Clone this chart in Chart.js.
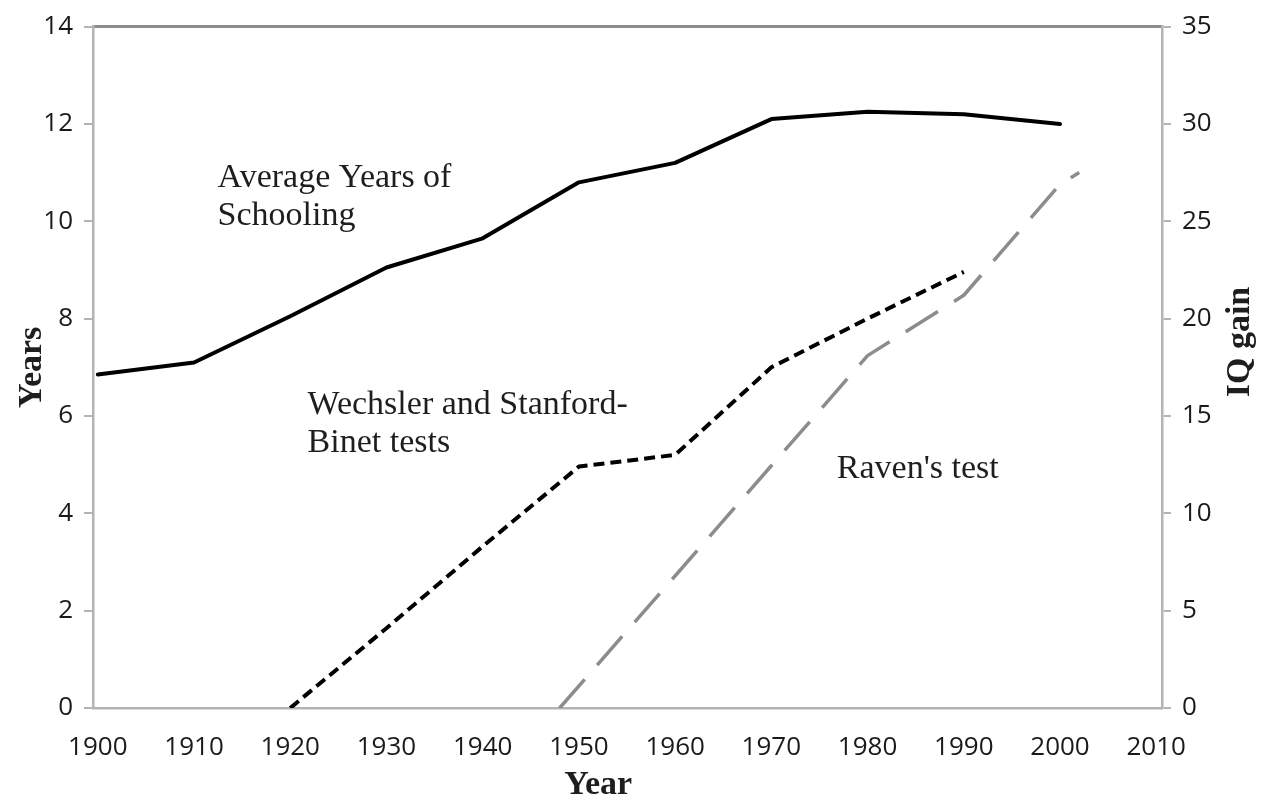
<!DOCTYPE html>
<html>
<head>
<meta charset="utf-8">
<script src="https://cdn.jsdelivr.net/npm/chart.js@4.4.1/dist/chart.umd.min.js"></script>
<style>
  body { margin: 0; background: #fff; }
  #wrap { width: 1261px; height: 808px; }
</style>
</head>
<body>
<div id="wrap"><canvas id="chart" width="1261" height="808"></canvas></div>
<script>
// values
const schoolYears = [1900, 1910, 1920, 1930, 1940, 1950, 1960, 1970, 1980, 1990, 2000];
const schooling = [6.85, 7.1, 8.05, 9.05, 9.65, 10.8, 11.2, 12.1, 12.25, 12.2, 12.0];
const wechslerYears = [1920, 1930, 1940, 1950, 1960, 1970, 1980, 1990];
const wechsler = [0, 4.1, 8.3, 12.4, 13.0, 17.5, 20.0, 22.4];
const ravenYears = [1948, 1980, 1990, 2000, 2002];
const raven = [0, 18.1, 21.2, 26.9, 27.5];
const yearTicks = [1900, 1910, 1920, 1930, 1940, 1950, 1960, 1970, 1980, 1990, 2000, 2010];

// text notes placed in data units (year, left axis value of first baseline)
const notes = [
  { lines: ['Average Years of', 'Schooling'], year: 1912.45, value: 10.7 },
  { lines: ['Wechsler and Stanford-', 'Binet tests'], year: 1921.8, value: 6.05 },
  { lines: ["Raven's test"], year: 1976.8, value: 4.73 }
];

const pts = (xs, ys) => xs.map((x, i) => ({ x: x, y: ys[i] }));

const tickFont = { family: '"Open Sans", "Noto Sans", sans-serif', size: 26 };
const serif = '"Liberation Serif", "DejaVu Serif", serif';
const axisGrey = '#b4b4b4';

const notesPlugin = {
  id: 'notes',
  afterDraw(chart) {
    const ctx = chart.ctx, x = chart.scales.x, y = chart.scales.y, y1 = chart.scales.y1;
    ctx.save();
    ctx.fillStyle = '#1e1e1e';
    ctx.font = '34px ' + serif;
    ctx.textAlign = 'left';
    ctx.textBaseline = 'alphabetic';
    notes.forEach(n => {
      const px = x.getPixelForValue(n.year), py = y.getPixelForValue(n.value);
      n.lines.forEach((t, i) => ctx.fillText(t, px, py + i * 38));
    });
    // axis titles not centred on the plot
    ctx.font = 'bold 34px ' + serif;
    ctx.textAlign = 'center';
    ctx.textBaseline = 'middle';
    ctx.fillText('Year', x.getPixelForValue(1952), chart.height - 23);
    ctx.translate(1240, y1.getPixelForValue(18.8));
    ctx.rotate(-Math.PI / 2);
    ctx.fillText('IQ gain', 0, 0);
    ctx.restore();
  }
};

new Chart(document.getElementById('chart'), {
  type: 'line',
  data: {
    datasets: [
      {
        label: 'Average Years of Schooling',
        data: pts(schoolYears, schooling),
        yAxisID: 'y',
        borderColor: '#000',
        borderWidth: 4,
        pointRadius: 0,
        tension: 0,
        borderJoinStyle: 'round',
        borderCapStyle: 'round'
      },
      {
        label: 'Wechsler and Stanford-Binet tests',
        data: pts(wechslerYears, wechsler),
        yAxisID: 'y1',
        borderColor: '#000',
        borderWidth: 4,
        borderDash: [11, 6],
        pointRadius: 0,
        tension: 0,
        borderJoinStyle: 'round'
      },
      {
        label: "Raven's test",
        data: pts(ravenYears, raven),
        yAxisID: 'y1',
        borderColor: '#8c8c8c',
        borderWidth: 3.5,
        borderDash: [38, 19],
        pointRadius: 0,
        tension: 0,
        borderJoinStyle: 'round'
      }
    ]
  },
  options: {
    responsive: false,
    animation: false,
    layout: { padding: 0 },
    plugins: { legend: { display: false }, tooltip: { enabled: false } },
    scales: {
      x: {
        type: 'linear',
        position: 'bottom',
        min: 1899.5,
        max: 2010.6,
        afterBuildTicks: s => { s.ticks = yearTicks.map(v => ({ value: v })); },
        afterFit: s => { s.height = 100; },
        grid: { display: false, drawTicks: false },
        border: { display: true, color: axisGrey, width: 2.5 },
        ticks: { font: tickFont, color: '#1a1a1a', padding: 24, maxRotation: 0, autoSkip: false, callback: v => String(v) }
      },
      xTop: {
        type: 'linear',
        position: 'top',
        min: 1899.5,
        max: 2010.6,
        afterFit: s => { s.height = 25; },
        grid: { display: false, drawTicks: false },
        border: { display: true, color: '#8e8e8e', width: 3 },
        ticks: { display: false }
      },
      y: {
        position: 'left',
        min: 0,
        max: 14,
        afterFit: s => { s.width = 93; },
        ticks: { stepSize: 2, font: tickFont, color: '#1a1a1a', padding: 11 },
        grid: { drawOnChartArea: false, drawTicks: true, tickLength: 9, color: axisGrey, lineWidth: 2 },
        border: { display: true, color: axisGrey, width: 2.5 },
        title: { display: true, text: 'Years', color: '#1e1e1e', font: { family: serif, size: 34, weight: 'bold' }, padding: { top: 12, bottom: 0 } }
      },
      y1: {
        position: 'right',
        min: 0,
        max: 35,
        afterFit: s => { s.width = 99; },
        ticks: { stepSize: 5, font: tickFont, color: '#1a1a1a', padding: 11 },
        grid: { drawOnChartArea: false, drawTicks: true, tickLength: 9, color: axisGrey, lineWidth: 2 },
        border: { display: true, color: axisGrey, width: 2.5 }
      }
    }
  },
  plugins: [notesPlugin]
});
</script>
</body>
</html>
